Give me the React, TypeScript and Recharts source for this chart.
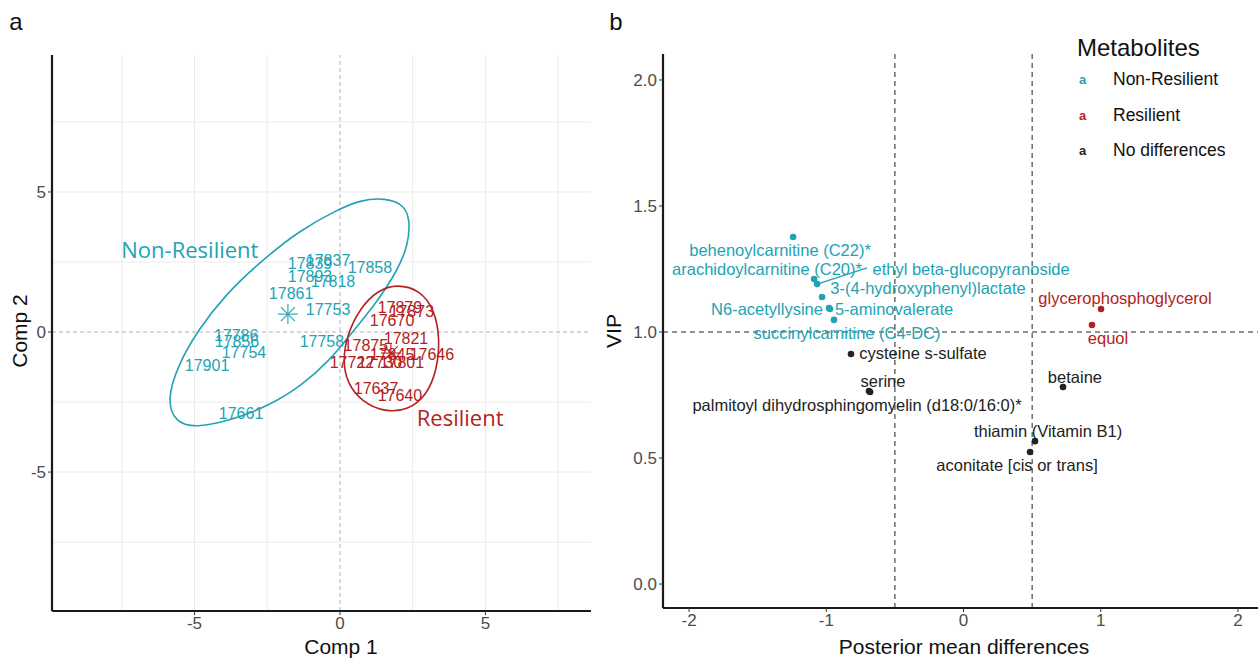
import React from 'react';
import {
    ScatterChart, Scatter, XAxis, YAxis, ReferenceLine, Legend, Customized,
} from 'recharts';

const FONT = '"Liberation Sans", Arial, sans-serif';
const TEAL = '#22a3b3';
const RED = '#b22222';
const DARK = '#222222';
const TICK = '#4d4d4d';

// ---- panel a: sample scores on the first two components
const nonResIds = ['17837', '17839', '17893', '17818', '17858', '17861', '17753', '17786', '17856', '17754', '17901', '17661', '17758'];
const nonResComp1 = [-0.41, -1.03, -1.03, -0.24, 1.03, -1.68, -0.41, -3.57, -3.54, -3.30, -4.57, -3.40, -0.62];
const nonResComp2 = [2.54, 2.46, 2.0, 1.82, 2.29, 1.39, 0.82, -0.11, -0.32, -0.71, -1.18, -2.89, -0.32];

const resIds = ['17879', '17873', '17670', '17821', '17875', '17646', '17845', '17722', '17730', '17801', '17637', '17640'];
const resComp1 = [2.06, 2.47, 1.79, 2.27, 0.89, 3.16, 1.79, 0.41, 1.37, 2.13, 1.24, 2.06];
const resComp2 = [0.89, 0.75, 0.43, -0.21, -0.46, -0.79, -0.79, -1.07, -1.07, -1.07, -2.0, -2.25];

const centroidComp1 = [-1.79, 1.75];
const centroidComp2 = [0.64, -0.75];

const groupNames = ['Non-Resilient', 'Resilient'];
const groupLabelComp1 = [-5.16, 4.13];
const groupLabelComp2 = [2.93, -3.07];

// ellipse outlines
const nonResEllipseX = [2.41, 2.23, 1.55, 0.69, -0.10, -1.37, -2.75, -3.95, -4.88, -5.57, -5.95, -5.67, -4.98, -3.68, -2.41, -1.37, -0.34, 0.34, 1.20, 1.99, 2.34];
const nonResEllipseY = [3.93, 4.54, 4.79, 4.71, 4.36, 3.64, 2.5, 1.32, 0.07, -1.18, -2.43, -3.21, -3.43, -3.14, -2.61, -1.96, -1.0, -0.11, 0.96, 2.21, 3.11];
const resEllipseX = [1.96, 2.75, 3.26, 3.44, 3.33, 2.99, 2.34, 1.55, 0.76, 0.24, 0.10, 0.24, 0.69, 1.31];
const resEllipseY = [1.71, 1.5, 0.79, -0.29, -1.36, -2.25, -2.79, -2.86, -2.5, -1.82, -1.0, -0.11, 0.86, 1.5];

const compTicks = [-5, 0, 5];
const compGrid = [-7.5, -5, -2.5, 2.5, 5, 7.5];

// ---- panel b: VIP vs posterior mean differences
const metNames = [
    'behenoylcarnitine (C22)*', 'arachidoylcarnitine (C20)*', 'ethyl beta-glucopyranoside',
    '3-(4-hydroxyphenyl)lactate', 'N6-acetyllysine', '5-aminovalerate', 'succinylcarnitine (C4-DC)',
    'glycerophosphoglycerol', 'equol',
    'cysteine s-sulfate', 'serine', 'palmitoyl dihydrosphingomyelin (d18:0/16:0)*', 'betaine',
    'thiamin (Vitamin B1)', 'aconitate [cis or trans]',
];
const metGroup = ['NR', 'NR', 'NR', 'NR', 'NR', 'NR', 'NR', 'R', 'R', 'ND', 'ND', 'ND', 'ND', 'ND', 'ND'];
const metDiff = [-1.242, -1.089, -1.067, -1.031, -0.980, -0.973, -0.944, 1.002, 0.936, -0.820, -0.681, -0.689, 0.725, 0.521, 0.485];
const metVip = [1.377, 1.210, 1.190, 1.139, 1.095, 1.091, 1.048, 1.091, 1.028, 0.913, 0.762, 0.766, 0.782, 0.567, 0.524];
const labelDiff = [-1.337, -1.432, 0.055, -0.259, -1.432, -0.506, -0.849, 1.177, 1.053, -0.295, -0.587, -0.776, 0.812, 0.616, 0.39];
const labelVip = [1.325, 1.25, 1.25, 1.175, 1.091, 1.091, 0.996, 1.135, 0.976, 0.917, 0.806, 0.71, 0.821, 0.607, 0.472];

const legendOrder = ['Non-Resilient', 'Resilient', 'No differences'];
const vipTicks = [0, 0.5, 1, 1.5, 2];
const diffTicks = [-2, -1, 0, 1, 2];
const vipCutoff = 1;
const diffCutoffs = [-0.5, 0.5];

const pts = (xs: number[], ys: number[], labels?: string[]) =>
    xs.map((x, i) => ({ x, y: ys[i], label: labels ? labels[i] : '' }));

const metPoints = (g: string) => metNames
    .map((n, i) => ({ x: metDiff[i], y: metVip[i], label: n, g: metGroup[i] }))
    .filter((p) => p.g === g);
const metLabels = (g: string) => metNames
    .map((n, i) => ({ x: labelDiff[i], y: labelVip[i], label: n, g: metGroup[i] }))
    .filter((p) => p.g === g);

const textShape = (color: string, size: number, family = FONT) => (p: any) => (
    <text x={p.cx} y={p.cy} dy="0.35em" textAnchor="middle" fill={color} fontSize={size} fontFamily={family}>
        {p.payload.label}
    </text>
);

const starShape = (color: string) => (p: any) => (
    <g stroke={color} strokeWidth={1.1}>
        <line x1={p.cx - 10} y1={p.cy} x2={p.cx + 10} y2={p.cy} />
        <line x1={p.cx} y1={p.cy - 10} x2={p.cx} y2={p.cy + 10} />
        <line x1={p.cx - 7} y1={p.cy - 7} x2={p.cx + 7} y2={p.cy + 7} />
        <line x1={p.cx - 7} y1={p.cy + 7} x2={p.cx + 7} y2={p.cy - 7} />
    </g>
);

const dotShape = (color: string) => (p: any) => <circle cx={p.cx} cy={p.cy} r={3.3} fill={color} />;
const noShape = () => <g />;

const renderLegend = (props: any) => {
    const items = (props.payload || [])
        .filter((p: any) => p.type !== 'none' && legendOrder.includes(p.value))
        .sort((a: any, b: any) => legendOrder.indexOf(a.value) - legendOrder.indexOf(b.value));
    return (
        <div style={{ fontFamily: FONT, color: '#111' }}>
            <div style={{ fontSize: 24, lineHeight: '28px' }}>Metabolites</div>
            {items.map((p: any) => (
                <div key={p.value} style={{ display: 'flex', alignItems: 'center', height: 35.5 }}>
                    <span style={{ color: p.color, fontSize: 13, fontWeight: 'bold', width: 34, paddingLeft: 2 }}>a</span>
                    <span style={{ fontSize: 17.5 }}>{p.value}</span>
                </div>
            ))}
        </div>
    );
};

const axisText = (x: number, y: number, text: string, size: number, rotate = false) => (
    <text
        x={x}
        y={y}
        dy="0.35em"
        textAnchor="middle"
        fontSize={size}
        fontFamily={FONT}
        fill="#111"
        transform={rotate ? `rotate(-90 ${x} ${y})` : undefined}
    >
        {text}
    </text>
);

const axisLine = { stroke: '#1a1a1a', strokeWidth: 2.2 };
const tickStyle = { fill: TICK, fontSize: 17, fontFamily: FONT };

function ScoresPanel() {
    return (
        <ScatterChart width={600} height={659} margin={{ top: 55, right: 9, bottom: 0, left: 0 }}>
            {compGrid.map((v) => (
                <ReferenceLine key={`gx${v}`} x={v} stroke="#ebebeb" strokeWidth={1} />
            ))}
            {compGrid.map((v) => (
                <ReferenceLine key={`gy${v}`} y={v} stroke="#ebebeb" strokeWidth={1} />
            ))}
            <ReferenceLine x={0} stroke="#b3b3b3" strokeDasharray="4 3" />
            <ReferenceLine y={0} stroke="#b3b3b3" strokeDasharray="4 3" />
            <XAxis
                type="number"
                dataKey="x"
                domain={[-9.9, 8.63]}
                ticks={compTicks}
                allowDataOverflow
                height={48}
                axisLine={axisLine}
                tickLine={{ stroke: '#333' }}
                tickSize={4}
                tick={tickStyle}
            />
            <YAxis
                type="number"
                dataKey="y"
                domain={[-9.96, 9.89]}
                ticks={compTicks}
                allowDataOverflow
                width={52}
                axisLine={axisLine}
                tickLine={{ stroke: '#333' }}
                tickSize={4}
                tick={tickStyle}
            />
            <Scatter
                data={pts(nonResEllipseX, nonResEllipseY)}
                line={{ stroke: TEAL, strokeWidth: 1.6 }}
                lineJointType="basisClosed"
                shape={noShape}
                isAnimationActive={false}
            />
            <Scatter
                data={pts(resEllipseX, resEllipseY)}
                line={{ stroke: RED, strokeWidth: 1.6 }}
                lineJointType="basisClosed"
                shape={noShape}
                isAnimationActive={false}
            />
            <Scatter data={pts(centroidComp1.slice(0, 1), centroidComp2.slice(0, 1))} shape={starShape(TEAL)} isAnimationActive={false} />
            <Scatter data={pts(centroidComp1.slice(1), centroidComp2.slice(1))} shape={starShape(RED)} isAnimationActive={false} />
            <Scatter data={pts(nonResComp1, nonResComp2, nonResIds)} shape={textShape(TEAL, 16)} isAnimationActive={false} />
            <Scatter data={pts(resComp1, resComp2, resIds)} shape={textShape(RED, 16)} isAnimationActive={false} />
            <Scatter
                data={pts(groupLabelComp1.slice(0, 1), groupLabelComp2.slice(0, 1), groupNames.slice(0, 1))}
                shape={textShape(TEAL, 22, '"Open Sans", sans-serif')}
                isAnimationActive={false}
            />
            <Scatter
                data={pts(groupLabelComp1.slice(1), groupLabelComp2.slice(1), groupNames.slice(1))}
                shape={textShape(RED, 22, '"Open Sans", sans-serif')}
                isAnimationActive={false}
            />
            <Customized
                component={() => (
                    <g>
                        {axisText(16, 22, 'a', 24)}
                        {axisText(341, 647, 'Comp 1', 21)}
                        {axisText(20, 331, 'Comp 2', 21, true)}
                    </g>
                )}
            />
        </ScatterChart>
    );
}

function VipPanel() {
    return (
        <ScatterChart width={658} height={659} margin={{ top: 54, right: 0, bottom: 0, left: 0 }}>
            <XAxis
                type="number"
                dataKey="x"
                domain={[-2.19, 2.146]}
                ticks={diffTicks}
                allowDataOverflow
                height={51}
                axisLine={axisLine}
                tickLine={{ stroke: '#333' }}
                tickSize={4}
                tick={tickStyle}
            />
            <YAxis
                type="number"
                dataKey="y"
                domain={[-0.095, 2.103]}
                ticks={vipTicks}
                allowDataOverflow
                width={63}
                axisLine={axisLine}
                tickLine={{ stroke: '#333' }}
                tickSize={4}
                tick={tickStyle}
                tickFormatter={(v: number) => v.toFixed(1)}
            />
            {diffCutoffs.map((v) => (
                <ReferenceLine key={v} x={v} stroke="#222" strokeDasharray="5 4" />
            ))}
            <ReferenceLine y={vipCutoff} stroke="#222" strokeDasharray="5 4" />
            <ReferenceLine
                segment={[{ x: metDiff[2], y: metVip[2] }, { x: -0.703, y: 1.254 }]}
                stroke={TEAL}
                strokeWidth={1.3}
            />
            <Scatter name="Non-Resilient" data={metPoints('NR')} fill={TEAL} shape={dotShape(TEAL)} isAnimationActive={false} />
            <Scatter name="Resilient" data={metPoints('R')} fill={RED} shape={dotShape(RED)} isAnimationActive={false} />
            <Scatter name="No differences" data={metPoints('ND')} fill={DARK} shape={dotShape(DARK)} isAnimationActive={false} />
            <Scatter data={metLabels('NR')} legendType="none" shape={textShape(TEAL, 16.5)} isAnimationActive={false} />
            <Scatter data={metLabels('R')} legendType="none" shape={textShape(RED, 16.5)} isAnimationActive={false} />
            <Scatter data={metLabels('ND')} legendType="none" shape={textShape(DARK, 16.5)} isAnimationActive={false} />
            <Legend
                layout="vertical"
                align="center"
                verticalAlign="middle"
                content={renderLegend}
                wrapperStyle={{ top: 34, left: 477, width: 190, height: 140 }}
            />
            <Customized
                component={() => (
                    <g>
                        {axisText(16, 22, 'b', 24)}
                        {axisText(364, 647, 'Posterior mean differences', 21)}
                        {axisText(14, 331, 'VIP', 21, true)}
                    </g>
                )}
            />
        </ScatterChart>
    );
}

export default function App() {
    return (
        <div style={{ position: 'absolute', left: 0, top: 0, width: 1258, height: 659, background: '#fff', overflow: 'hidden' }}>
            <div style={{ position: 'absolute', left: 0, top: 0 }}>
                <ScoresPanel />
            </div>
            <div style={{ position: 'absolute', left: 600, top: 0 }}>
                <VipPanel />
            </div>
        </div>
    );
}
